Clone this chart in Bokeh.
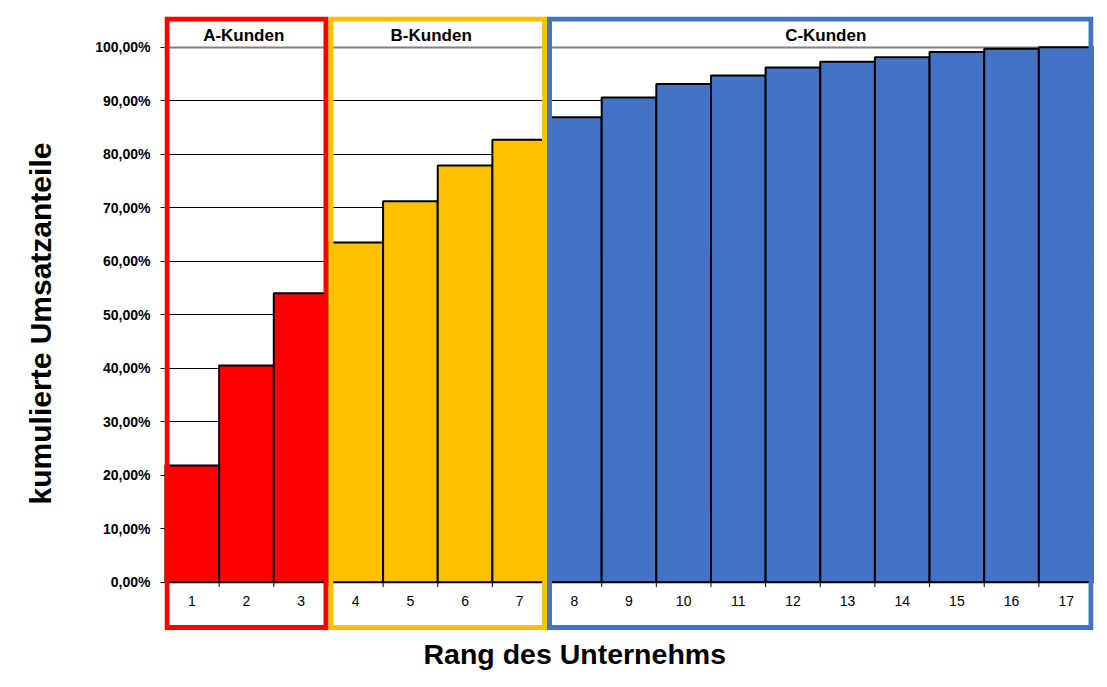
from bokeh.plotting import figure
from bokeh.models import Range1d, FixedTicker, Grid, Title, ColumnDataSource
from bokeh.core.properties import value
from bokeh.embed import file_html
from bokeh.resources import INLINE

# ---- data ----
ranks = list(range(1, 18))
cum_share = [21.8, 40.5, 54.0, 63.5, 71.2, 77.9, 82.7, 86.9, 90.6, 93.1,
             94.7, 96.2, 97.3, 98.1, 99.1, 99.7, 100.0]
rank_class = ["A"] * 3 + ["B"] * 4 + ["C"] * 10
group_keys = ["A", "B", "C"]
group_names = ["A-Kunden", "B-Kunden", "C-Kunden"]
group_first = [1, 4, 8]
group_last = [3, 7, 17]
group_label_x = [1.95, 5.38, 12.6]
group_colors = ["#FF0000", "#FFC000", "#4472C4"]
y_ticks = [0, 10, 20, 30, 40, 50, 60, 70, 80, 90, 100]
y_tick_labels = ["0,00%", "10,00%", "20,00%", "30,00%", "40,00%", "50,00%",
                 "60,00%", "70,00%", "80,00%", "90,00%", "100,00%"]

FONT = "Liberation Sans"
color_of = dict(zip(group_keys, group_colors))

p = figure(width=1099, height=679, output_backend="svg", toolbar_location=None,
           x_range=Range1d(0.5, 17.5), y_range=Range1d(-9.03, 105.74),
           min_border_left=164, min_border_right=6, min_border_top=16,
           min_border_bottom=49, outline_line_color=None)

# grid
p.xgrid.visible = False
p.ygrid.ticker = FixedTicker(ticks=y_ticks[:-1])
p.ygrid.grid_line_color = "black"
p.ygrid.grid_line_width = 1
top_grid = Grid(dimension=1, ticker=FixedTicker(ticks=y_ticks[-1:]),
                grid_line_color="#808080", grid_line_width=2)
p.add_layout(top_grid)

# axes
p.xaxis.visible = False
yax = p.yaxis[0]
yax.ticker = FixedTicker(ticks=y_ticks)
yax.major_label_overrides = dict(zip(y_ticks, y_tick_labels))
yax.axis_line_color = None
yax.major_tick_out = 4
yax.major_tick_in = 0
yax.major_tick_line_color = "black"
yax.minor_tick_line_color = None
yax.major_label_standoff = 10
yax.major_label_text_font = FONT
yax.major_label_text_font_style = "bold"
yax.major_label_text_font_size = "14px"
yax.major_label_text_color = "black"
yax.axis_label = "kumulierte Umsatzanteile"
yax.axis_label_text_font = FONT
yax.axis_label_text_font_style = "bold"
yax.axis_label_text_font_size = "30px"
yax.axis_label_text_color = "black"
yax.axis_label_standoff = 35

# bars
src = ColumnDataSource(dict(x=ranks, top=cum_share,
                            color=[color_of[c] for c in rank_class],
                            label=[str(r) for r in ranks]))
p.vbar(x="x", top="top", bottom=0, width=1, source=src, fill_color="color",
       line_color="black", line_width=2)

# x tick marks at category boundaries
bounds = [r + 0.5 for r in ranks[:-1]]
p.segment(x0=bounds, x1=bounds, y0=[0] * len(bounds), y1=[-0.9] * len(bounds),
          line_color="black", line_width=1)

# category labels
p.text(x="x", y=-3.5, text="label", source=src, text_align="center",
       text_baseline="middle", text_font=value(FONT), text_font_size="14px",
       text_color="black")

# group frames
pad = 0.045
p.quad(left=[f - 0.5 + pad for f in group_first],
       right=[l + 0.5 - pad for l in group_last],
       bottom=-8.47, top=105.27, fill_color=None,
       line_color=group_colors, line_width=5, line_join="miter")

# group labels
p.text(x=group_label_x, y=102.2, text=group_names, text_align="center",
       text_baseline="alphabetic", text_font=value(FONT), text_font_size="17px",
       text_font_style="bold", text_color="black")

# x title
p.add_layout(Title(text="Rang des Unternehms", align="left", offset=259,
                   text_font=FONT, text_font_size="28.5px", text_font_style="bold",
                   text_color="black", standoff=10), "below")

open("out.html", "w").write(file_html(p, INLINE))
